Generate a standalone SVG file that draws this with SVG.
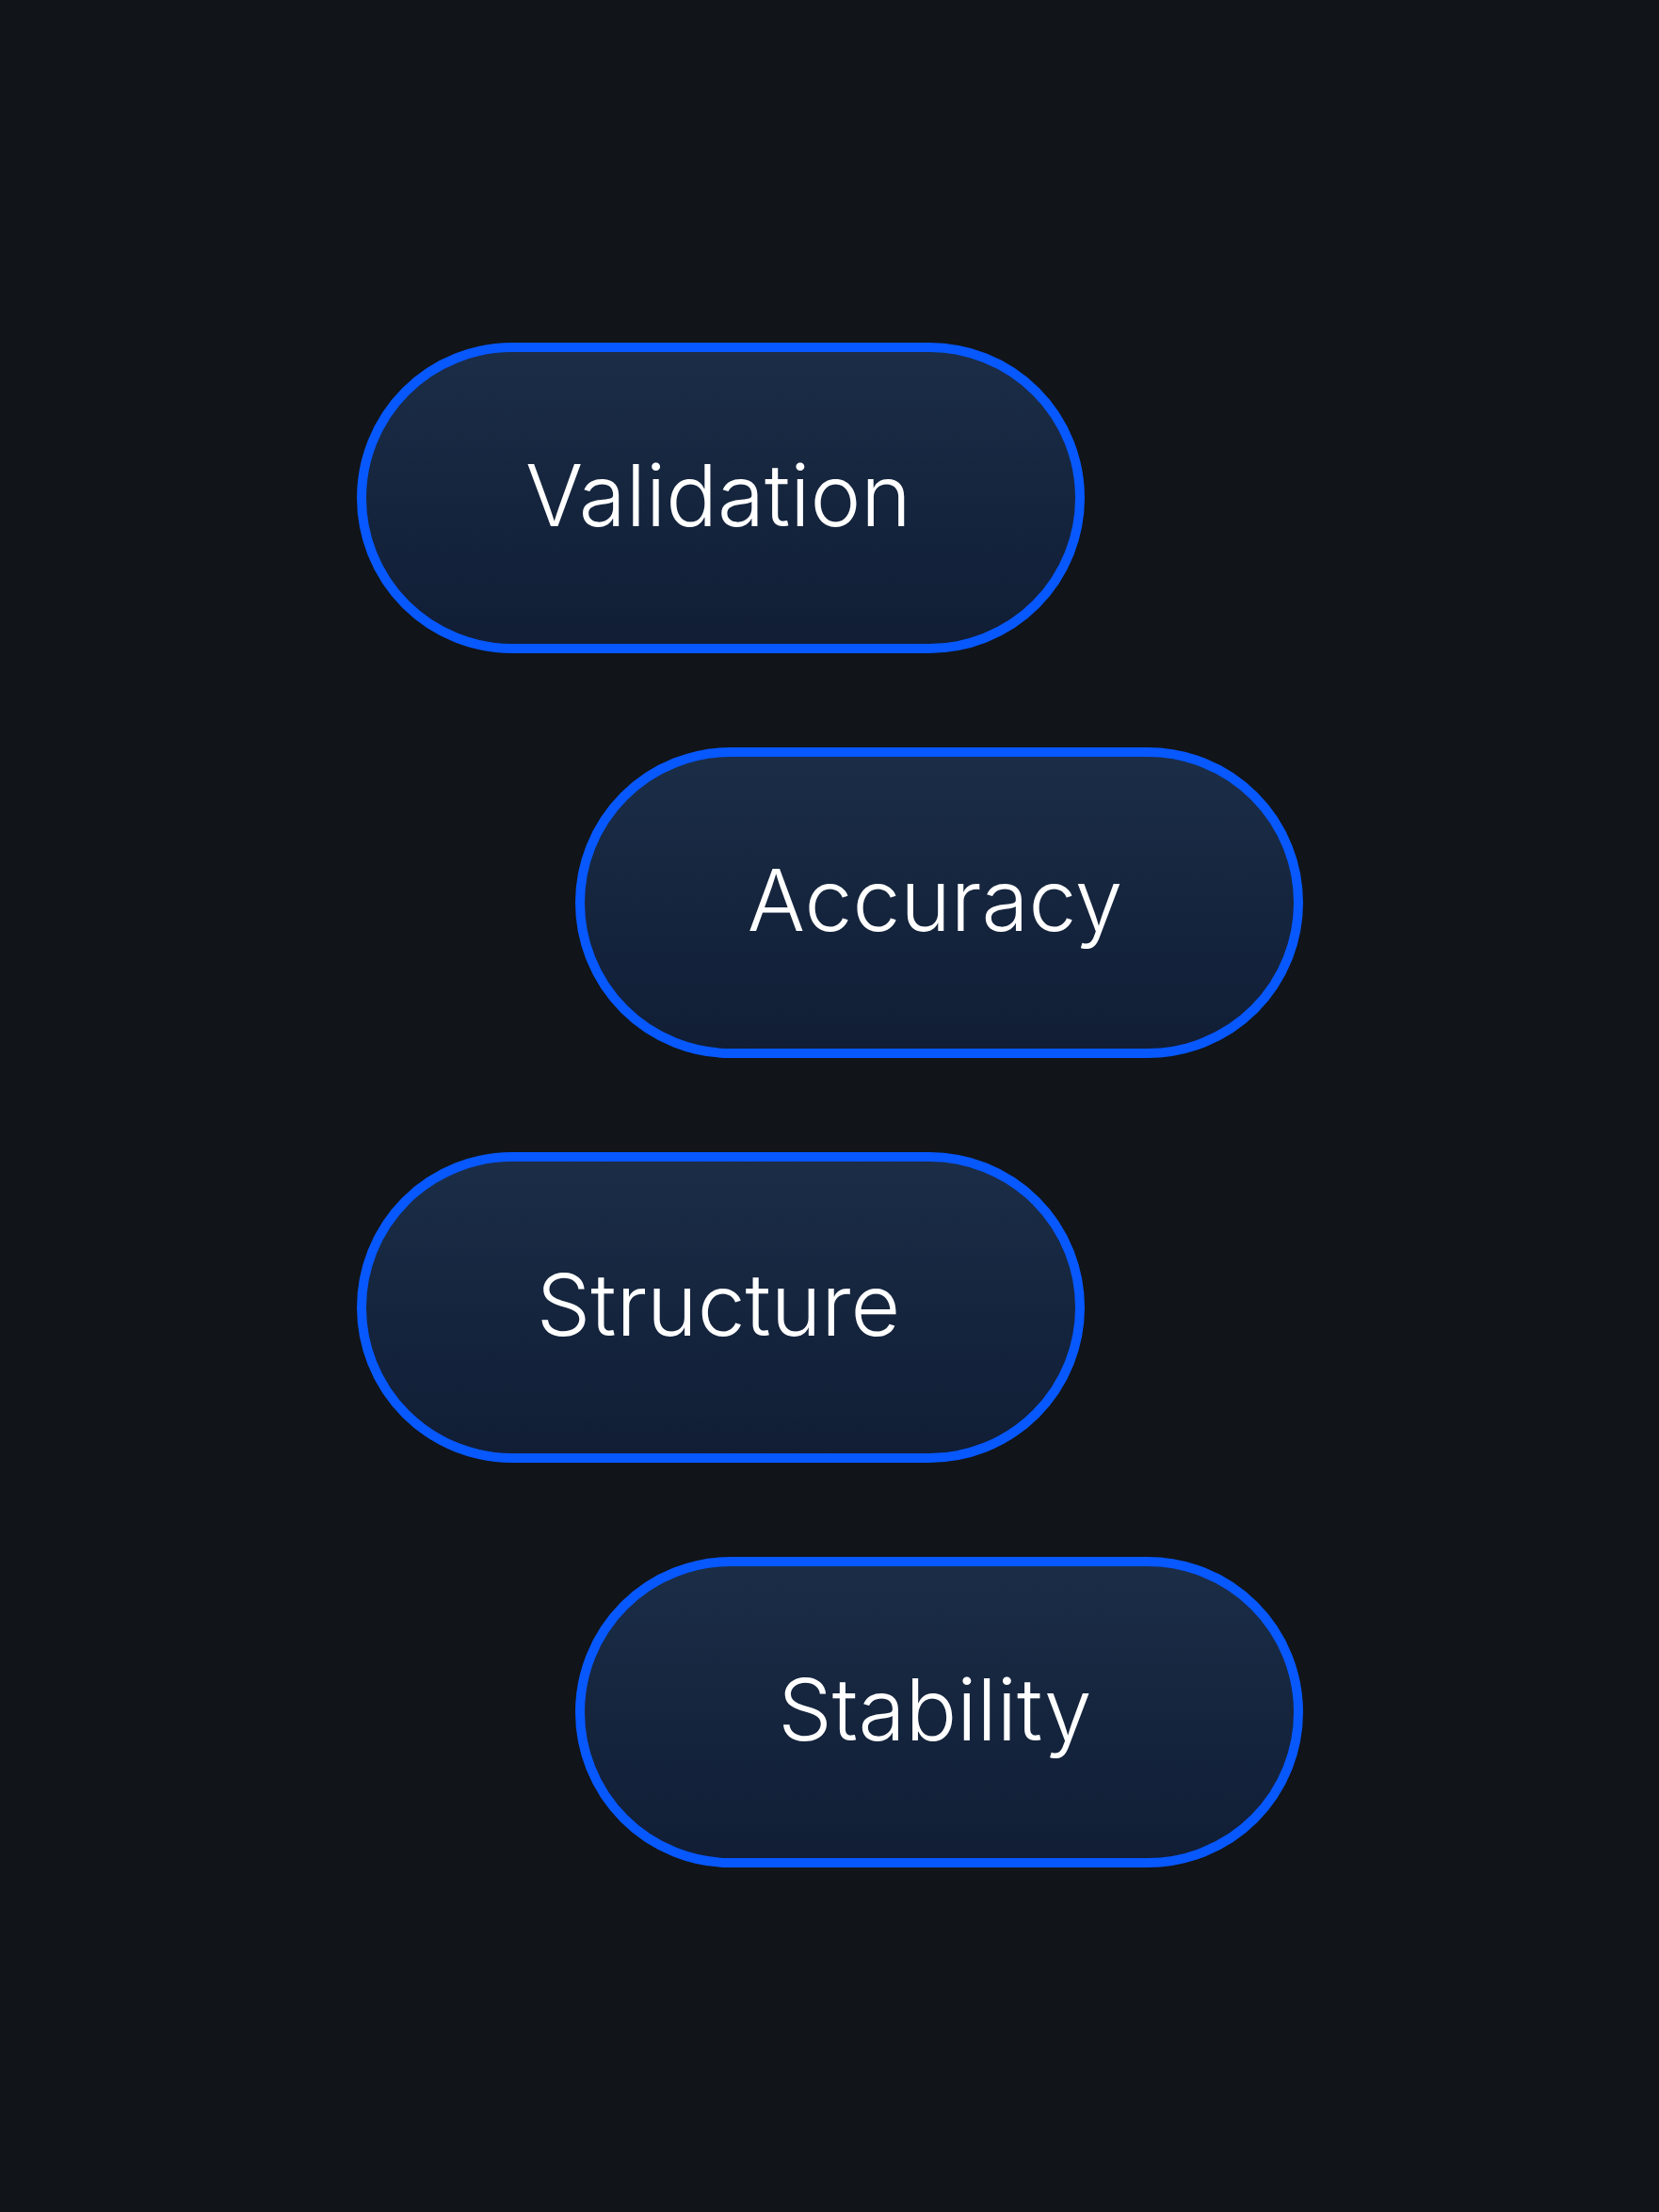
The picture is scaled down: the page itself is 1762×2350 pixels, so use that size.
<svg xmlns="http://www.w3.org/2000/svg" width="1762" height="2350" viewBox="0 0 1762 2350">
<defs>
<linearGradient id="pillFill" x1="0" y1="0" x2="0" y2="1">
<stop offset="0" stop-color="#1b2d47"/>
<stop offset="1" stop-color="#101d35"/>
</linearGradient>
<style>
.pill{fill:url(#pillFill);stroke:#0758ff;stroke-width:10}
.label{font-family:Inter,"Liberation Sans",sans-serif;font-size:91px;font-weight:300;fill:#ffffff;text-anchor:middle}
</style>
</defs>
<rect width="1762" height="2350" fill="#111418"/>
<g id="connectors"/>
<g id="node-validation">
<rect class="pill" x="384" y="369" width="763" height="320" rx="160" ry="160"/>
<text class="label" x="763" y="559">Validation</text>
</g>
<g id="node-accuracy">
<rect class="pill" x="616" y="799" width="763" height="320" rx="160" ry="160"/>
<text class="label" x="993" y="989">Accuracy</text>
</g>
<g id="node-structure">
<rect class="pill" x="384" y="1229" width="763" height="320" rx="160" ry="160"/>
<text class="label" x="763" y="1419">Structure</text>
</g>
<g id="node-stability">
<rect class="pill" x="616" y="1659" width="763" height="320" rx="160" ry="160"/>
<text class="label" x="993" y="1849">Stability</text>
</g>
</svg>
